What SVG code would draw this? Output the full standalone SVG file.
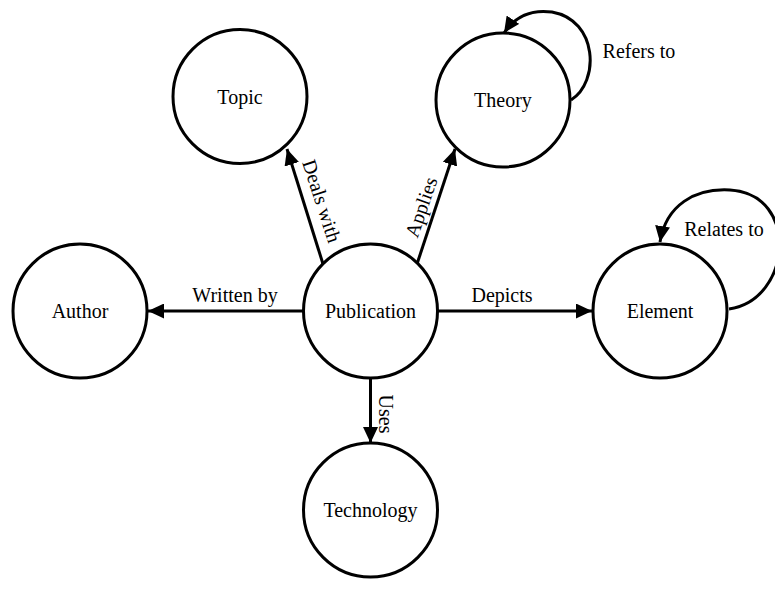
<svg xmlns="http://www.w3.org/2000/svg" width="775" height="605" viewBox="0 0 775 605">
  <style>
    .node { fill: #ffffff; stroke: #000000; stroke-width: 3; }
    .label { font-family: "Liberation Serif", "Times New Roman", serif; font-size: 20px; fill: #000000; text-anchor: middle; dominant-baseline: central; }
    .edge { fill: none; stroke: #000000; stroke-width: 3; marker-end: url(#arrow); }
  </style>
  <defs>
    <marker id="arrow" markerUnits="userSpaceOnUse" markerWidth="18" markerHeight="15" refX="16" refY="7.5" orient="auto">
      <path d="M0,0 L16,7.5 L0,15 Z" fill="#000000"/>
    </marker>
  </defs>

  <rect width="775" height="605" fill="#ffffff"/>

  <g id="connectors">
    <g id="edge-written-by">
      <line class="edge" x1="303" y1="311" x2="148" y2="311"/>
      <text class="label" x="235" y="295">Written by</text>
    </g>
    <g id="edge-depicts">
      <line class="edge" x1="438" y1="311" x2="592" y2="311"/>
      <text class="label" x="502" y="295">Depicts</text>
    </g>
    <g id="edge-uses">
      <line class="edge" x1="370.5" y1="378" x2="370.5" y2="443"/>
      <text class="label" transform="translate(386,414) rotate(90)">Uses</text>
    </g>
    <g id="edge-deals-with">
      <line class="edge" x1="323" y1="264" x2="287" y2="149"/>
      <text class="label" transform="translate(322,201) rotate(72)">Deals with</text>
    </g>
    <g id="edge-applies">
      <line class="edge" x1="417" y1="264" x2="455" y2="149"/>
      <text class="label" transform="translate(421,207) rotate(-71)">Applies</text>
    </g>
    <g id="edge-refers-to">
      <path class="edge" d="M571,100 C600,82 598,20 552,12 C530,9 514,18 504,33"/>
      <text class="label" x="639" y="51">Refers to</text>
    </g>
    <g id="edge-relates-to">
      <path class="edge" d="M729,309 C792,300 800,194 730,190 C695,188 666,205 660,242"/>
      <text class="label" x="724" y="229">Relates to</text>
    </g>
  </g>

  <g id="node-publication">
    <circle class="node" cx="370.5" cy="311" r="67"/>
    <text class="label" x="370.5" y="311">Publication</text>
  </g>
  <g id="node-author">
    <circle class="node" cx="80" cy="311" r="67"/>
    <text class="label" x="80" y="311">Author</text>
  </g>
  <g id="node-topic">
    <circle class="node" cx="240" cy="96.5" r="67"/>
    <text class="label" x="240" y="96.5">Topic</text>
  </g>
  <g id="node-theory">
    <circle class="node" cx="503" cy="100" r="67"/>
    <text class="label" x="503" y="100">Theory</text>
  </g>
  <g id="node-element">
    <circle class="node" cx="660" cy="311" r="67"/>
    <text class="label" x="660" y="311">Element</text>
  </g>
  <g id="node-technology">
    <circle class="node" cx="370.5" cy="510" r="67"/>
    <text class="label" x="370.5" y="510">Technology</text>
  </g>
</svg>
